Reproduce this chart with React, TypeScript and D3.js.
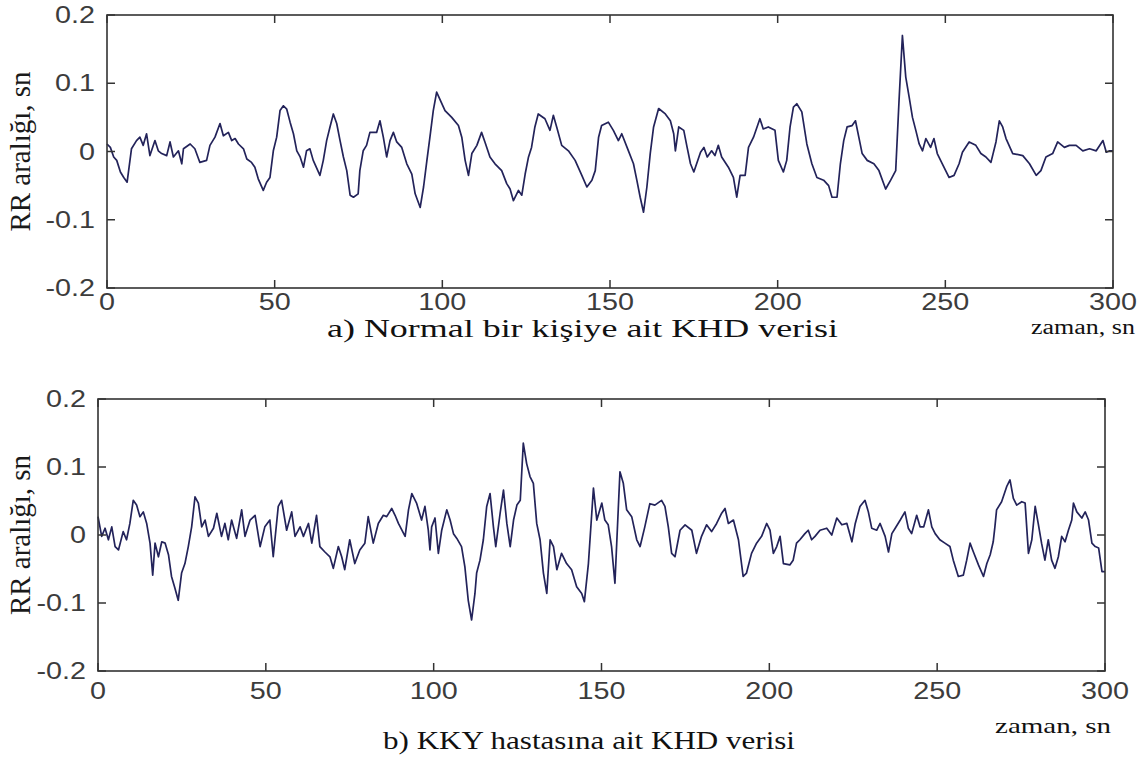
import React from "react";
import * as d3 from "d3";

// ---- Data ----
const X_TICKS = [0, 50, 100, 150, 200, 250, 300];
const Y_TICKS = [-0.2, -0.1, 0, 0.1, 0.2];
const Y_TICK_LABELS = ["-0.2", "-0.1", "0", "0.1", "0.2"];

const timeA = [
  0, 1, 2, 2.9, 4, 5, 6, 7.3, 8.8, 9.8, 10.8, 11.8, 12.8, 14.3, 15.3, 16.3, 17.8, 18.8, 19.8, 21.3,
  22.3, 22.8, 24.8, 26.2, 27.7, 29.7, 30.7, 32.2, 33.7, 34.7, 36.2, 37.2, 38.2, 39.2, 40.7, 41.7, 43.1,
  44.1, 45.1, 46.6, 47.6, 48.6, 49.6, 50.6, 51.6, 52.6, 53.6, 54.6, 55.6, 56.6, 57.6, 58.6, 59.5, 60.5,
  61.5, 63.5, 64.5, 65.5, 66.5, 67.5, 68.5, 69.5, 70.5, 71.5, 72.5, 73.5, 74.9, 75.4, 76.4, 77.4, 78.4,
  80.4, 81.4, 82.4, 83.4, 84.4, 85.4, 86.4, 87.9, 89.4, 90.9, 91.9, 93.4, 94.4, 95.4, 96.3, 97.3, 98.3,
  100.8, 102.8, 104.8, 105.8, 106.8, 107.8, 108.8, 110.3, 111.7, 112.7, 114.2, 115.7, 117.7, 119.2,
  120.2, 121.2, 122.7, 123.7, 124.7, 125.7, 126.6, 127.6, 128.6, 130.6, 132.1, 133.1, 134.1, 135.6,
  137.6, 139.6, 141.6, 143.1, 144.6, 145.6, 146.6, 147.5, 149.5, 151, 152.5, 153.5, 155.5, 157, 158,
  159, 160, 161, 162, 163, 164.5, 166.5, 168, 169, 169.5, 170.5, 172, 173, 174, 175, 177, 178, 179,
  180.3, 181.3, 182.3, 183.3, 185.3, 186.8, 187.8, 188.8, 190.3, 191.3, 192.8, 194.7, 195.7, 197.2,
  199.2, 200.2, 201.7, 202.7, 203.7, 204.7, 205.7, 207.2, 208.7, 210.2, 211.7, 213.7, 215.2, 216.2,
  217.7, 218.7, 219.7, 220.7, 222.2, 223.2, 224.2, 225.2, 226.7, 228.7, 230.2, 232.2, 233.7, 235.2,
  236.2, 237.2, 238.2, 239.2, 240.2, 241.2, 242.2, 243.2, 244.2, 245.6, 246.6, 247.6, 249.1, 251.1,
  252.6, 254.1, 255.1, 257.1, 259.1, 260.6, 262.1, 263.6, 265.1, 266.1, 267.1, 268.1, 270.1, 273.1,
  275.1, 277.1, 278.5, 280, 282, 283.5, 285.5, 287, 289, 291, 293, 295, 297, 298, 299, 300,
];
const rrA = [
  0.011, 0.006, -0.008, -0.013, -0.03, -0.038, -0.045, 0.004, 0.016, 0.021, 0.009, 0.026, -0.006, 0.016,
  0.001, -0.003, -0.006, 0.014, -0.008, 0.001, -0.018, 0.004, 0.011, 0.004, -0.016, -0.013, 0.009,
  0.021, 0.041, 0.023, 0.028, 0.016, 0.019, 0.011, 0.004, -0.011, -0.016, -0.023, -0.04, -0.057, -0.045,
  -0.038, 0.001, 0.021, 0.06, 0.067, 0.062, 0.043, 0.026, 0.001, -0.008, -0.023, 0.001, 0.004, -0.013,
  -0.035, -0.013, 0.016, 0.036, 0.055, 0.041, 0.016, -0.008, -0.028, -0.064, -0.067, -0.062, -0.028,
  0.001, 0.009, 0.028, 0.028, 0.045, 0.021, -0.008, 0.016, 0.028, 0.014, 0.006, -0.018, -0.033, -0.062,
  -0.082, -0.052, -0.013, 0.021, 0.06, 0.087, 0.06, 0.05, 0.038, 0.021, -0.013, -0.035, -0.003, 0.009,
  0.028, 0.014, -0.008, -0.018, -0.028, -0.047, -0.055, -0.072, -0.057, -0.064, -0.033, -0.008, 0.006,
  0.036, 0.055, 0.048, 0.031, 0.053, 0.036, 0.009, 0.001, -0.013, -0.035, -0.052, -0.042, -0.028, 0.021,
  0.038, 0.043, 0.031, 0.016, 0.026, 0.001, -0.018, -0.042, -0.067, -0.089, -0.052, -0.003, 0.036,
  0.063, 0.055, 0.045, 0.026, 0.001, 0.036, 0.031, 0.006, -0.018, -0.03, -0.001, 0.006, -0.008, 0.001,
  -0.006, 0.009, -0.008, -0.023, -0.038, -0.067, -0.035, -0.035, 0.006, 0.021, 0.048, 0.033, 0.036,
  0.031, -0.013, -0.03, -0.013, 0.036, 0.065, 0.07, 0.058, 0.011, -0.018, -0.038, -0.042, -0.05, -0.067,
  -0.067, -0.018, 0.016, 0.036, 0.038, 0.045, 0.021, -0.003, -0.013, -0.018, -0.028, -0.055, -0.042,
  -0.028, 0.075, 0.17, 0.109, 0.08, 0.05, 0.031, 0.011, 0.001, 0.019, 0.006, 0.019, -0.003, -0.018,
  -0.038, -0.035, -0.018, -0.001, 0.014, 0.009, -0.003, -0.008, -0.016, 0.014, 0.045, 0.036, 0.019,
  -0.003, -0.006, -0.018, -0.035, -0.028, -0.008, -0.003, 0.014, 0.006, 0.009, 0.009, 0.001, 0.004,
  0.001, 0.016, -0.001, 0.001, 0.001,
];

const timeB = [
  0, 1.1, 2.1, 3.1, 4.1, 5.1, 6.1, 7.5, 8.5, 9.5, 10.5, 11.5, 12.5, 13.5, 14.5, 15.5, 16.3, 17, 18, 19,
  20, 21, 21.9, 22.9, 23.9, 24.9, 25.9, 26.9, 27.9, 28.9, 29.9, 30.9, 31.9, 32.9, 34.4, 35.4, 36.8, 37.8,
  38.8, 39.8, 41.3, 42.8, 43.8, 45.3, 46.8, 48.3, 49.7, 51.2, 52.2, 53.7, 54.7, 56.2, 57.7, 58.7, 60.2,
  61.2, 62.7, 63.7, 65.1, 66.1, 67.6, 69.1, 70.1, 71.6, 72.6, 73.5, 75, 76.5, 78, 79.5, 80.5, 82, 83.5,
  85, 86, 87.5, 88.5, 89.5, 91.5, 92.5, 93.5, 94.9, 96.4, 97.4, 98.4, 98.9, 99.4, 100.4, 101.4, 102.4,
  103.9, 104.9, 105.9, 106.9, 108.3, 109.3, 110.3, 111.3, 112.3, 112.8, 113.8, 114.8, 115.8, 116.8,
  117.8, 118.5, 119.8, 120.8, 121.8, 122.8, 123.8, 124.8, 125.8, 126.7, 127.7, 128.7, 129.7, 130.7,
  131.7, 132.7, 133.7, 134.7, 135.7, 136.7, 138.1, 139.6, 141.1, 142.6, 144.1, 144.9, 146.1, 147.1,
  147.6, 148.6, 150.1, 151, 152, 153, 154, 154.8, 155.5, 156.5, 157.5, 159, 160.5, 161.5, 162.9, 164.4,
  165.9, 167.9, 168.9, 169.9, 170.9, 171.9, 173.4, 174.9, 176.9, 178.3, 179.8, 181.3, 182.8, 184.3,
  185.8, 186.8, 187.8, 189.3, 190.8, 192.2, 193.2, 194.7, 196.2, 197.7, 199.2, 200.2, 201.2, 202.2,
  203.2, 204.2, 206.1, 207.1, 208.1, 209.1, 210.6, 211.6, 212.6, 213.6, 215.1, 217.1, 218.6, 220.1,
  221.6, 223.1, 224.6, 225.6, 227, 228.5, 229.5, 230.5, 232, 233, 234.5, 235.5, 236.5, 237.5, 239,
  240.4, 241.4, 242.4, 243.9, 244.9, 246, 247.4, 248.4, 249.4, 250.8, 252.3, 253.8, 254.8, 256.3,
  257.8, 258.8, 259.8, 260.8, 262.3, 263.8, 264.8, 265.8, 266.7, 267.2, 267.7, 269.2, 270.7, 271.7,
  272.7, 273.7, 275.2, 276.2, 277.2, 278.2, 279.2, 280.1, 281.1, 282.1, 283.1, 284.1, 285.1, 286.1,
  287.1, 288.1, 289.1, 290.1, 290.6, 291.6, 293.1, 294.1, 295.1, 296.1, 297.1, 298.1, 299.1, 300,
];
const rrB = [
  0.027, -0.002, 0.01, -0.007, 0.012, -0.017, -0.022, 0.005, -0.007, 0.017, 0.051, 0.044, 0.027, 0.034,
  0.017, -0.012, -0.059, -0.012, -0.032, -0.01, -0.012, -0.029, -0.061, -0.078, -0.096, -0.056, -0.042,
  -0.017, 0.012, 0.056, 0.047, 0.012, 0.022, -0.002, 0.01, 0.032, -0.002, 0.017, -0.007, 0.022, -0.005,
  0.037, -0.002, 0.022, 0.029, -0.017, 0.012, 0.022, -0.032, 0.042, 0.051, 0.007, 0.034, -0.002, 0.012,
  -0.002, 0.017, -0.012, 0.029, -0.017, -0.025, -0.032, -0.049, -0.017, -0.032, -0.051, -0.007, -0.042,
  -0.022, -0.012, 0.027, -0.012, 0.017, 0.029, 0.027, 0.039, 0.029, 0.017, -0.002, 0.037, 0.061, 0.047,
  0.022, 0.042, 0.007, -0.022, 0.012, 0.025, -0.027, 0.007, 0.037, 0.022, 0.002, -0.005, -0.017, -0.047,
  -0.096, -0.125, -0.086, -0.056, -0.037, -0.007, 0.042, 0.061, 0.012, -0.017, 0.032, 0.066, 0.017,
  -0.017, 0.022, 0.044, 0.051, 0.135, 0.105, 0.086, 0.076, 0.017, -0.007, -0.056, -0.086, -0.007, -0.017,
  -0.051, -0.027, -0.042, -0.051, -0.076, -0.086, -0.098, -0.042, 0.032, 0.069, 0.022, 0.047, 0.022,
  0.015, -0.017, -0.071, 0.017, 0.093, 0.076, 0.037, 0.027, -0.007, -0.017, 0.012, 0.046, 0.044, 0.051,
  0.042, 0.012, -0.027, -0.032, 0.007, 0.015, 0.007, -0.027, -0.002, 0.015, 0.005, 0.017, 0.032, 0.039,
  0.017, 0.022, -0.007, -0.061, -0.056, -0.027, -0.012, -0.002, 0.017, 0.007, -0.027, -0.017, -0.002,
  -0.042, -0.044, -0.037, -0.012, -0.007, 0.002, 0.007, -0.007, -0.002, 0.007, 0.01, 0, 0.025, 0.015,
  0.017, -0.01, 0.017, 0.042, 0.051, 0.034, 0.01, 0.007, 0.017, -0.002, -0.025, 0.002, 0.01, 0.022,
  0.034, 0.01, 0.002, 0.029, 0.012, 0.012, 0.037, 0.012, 0.002, -0.007, -0.012, -0.017, -0.037, -0.061,
  -0.059, -0.037, -0.012, -0.025, -0.044, -0.061, -0.042, -0.029, -0.01, 0.012, 0.037, 0.049, 0.071,
  0.081, 0.054, 0.044, 0.049, 0.047, -0.027, -0.007, 0.042, 0.017, -0.012, -0.037, -0.007, -0.037,
  -0.049, -0.032, -0.002, -0.01, 0.007, 0.022, 0.047, 0.034, 0.025, 0.034, 0.022, -0.012, -0.017,
  -0.019, -0.054, -0.054,
];

const Y_TITLE = "RR aralığı, sn";
const X_TITLE = "zaman, sn";
const CAPTION_A = "a) Normal bir kişiye ait KHD verisi";
const CAPTION_B = "b) KKY hastasına ait KHD verisi";

const SANS = "'Liberation Sans', Arial, Helvetica, sans-serif";
const SERIF = "'Liberation Serif', 'Times New Roman', serif";
const AXIS = "#333";
const TICK_TXT = "#3c3c3c";
const LINE = "#23235a";

type PanelProps = {
  x0: number; x1: number; y0: number; y1: number;
  times: number[]; values: number[];
  caption: string; capX: number; capY: number; capLen: number;
  zX: number; zY: number; zLen: number; zSize: number;
  labX: number; tickDy: number;
};

function Panel(p: PanelProps) {
  const x = d3.scaleLinear().domain([0, 300]).range([p.x0, p.x1]);
  const y = d3.scaleLinear().domain([-0.2, 0.2]).range([p.y1, p.y0]);
  const pts: [number, number][] = p.times.map((t, i) => [t, p.values[i]]);
  const line = d3
    .line<[number, number]>()
    .x((d) => x(d[0]))
    .y((d) => y(d[1]))
    .curve(d3.curveLinear);
  const tl = 8;
  const midY = (p.y0 + p.y1) / 2;
  return (
    <g>
      <path d={line(pts) || ""} fill="none" stroke={LINE} strokeWidth={1.7} strokeLinejoin="round" />
      <rect x={p.x0} y={p.y0} width={p.x1 - p.x0} height={p.y1 - p.y0} fill="none" stroke={AXIS} strokeWidth={1.6} />
      {X_TICKS.map((t) => (
        <g key={"xt" + t}>
          <line x1={x(t)} x2={x(t)} y1={p.y1} y2={p.y1 - tl} stroke={AXIS} strokeWidth={1.5} />
          <line x1={x(t)} x2={x(t)} y1={p.y0} y2={p.y0 + tl} stroke={AXIS} strokeWidth={1.5} />
          <text
            transform={`translate(${x(t)},${p.y1 + p.tickDy}) scale(1.25,1)`}
            textAnchor="middle"
            fontFamily={SANS}
            fontSize={23}
            fill={TICK_TXT}
          >
            {String(t)}
          </text>
        </g>
      ))}
      {Y_TICKS.map((v, i) => (
        <g key={"yt" + i}>
          <line x1={p.x0} x2={p.x0 + tl} y1={y(v)} y2={y(v)} stroke={AXIS} strokeWidth={1.5} />
          <line x1={p.x1} x2={p.x1 - tl} y1={y(v)} y2={y(v)} stroke={AXIS} strokeWidth={1.5} />
          <text
            transform={`translate(${p.x0 - 12},${y(v) + 8}) scale(1.25,1)`}
            textAnchor="end"
            fontFamily={SANS}
            fontSize={23}
            fill={TICK_TXT}
          >
            {Y_TICK_LABELS[i]}
          </text>
        </g>
      ))}
      <text
        transform={`translate(${p.labX},${midY}) scale(1.15,1) rotate(-90)`}
        textAnchor="middle"
        fontFamily={SERIF}
        fontSize={25}
        fill="#1a1a1a"
        textLength={160}
        lengthAdjust="spacingAndGlyphs"
      >
        {Y_TITLE}
      </text>
      <text
        x={p.zX}
        y={p.zY}
        fontFamily={SERIF}
        fontSize={p.zSize}
        fill="#111"
        textLength={p.zLen}
        lengthAdjust="spacingAndGlyphs"
      >
        {X_TITLE}
      </text>
      <text
        x={p.capX}
        y={p.capY}
        fontFamily={SERIF}
        fontSize={25}
        fill="#111"
        textLength={p.capLen}
        lengthAdjust="spacingAndGlyphs"
      >
        {p.caption}
      </text>
    </g>
  );
}

export default function App() {
  return (
    <svg
      width={1145}
      height={758}
      style={{ position: "absolute", left: 0, top: 0, background: "#fff" }}
    >
      <rect x={0} y={0} width={1145} height={758} fill="#fff" />
      <Panel
        x0={107} x1={1113} y0={15} y1={288}
        times={timeA} values={rrA}
        caption={CAPTION_A} capX={327} capY={337} capLen={511}
        zX={1031} zY={334} zLen={104} zSize={20}
        labX={30} tickDy={22}
      />
      <Panel
        x0={98} x1={1105} y0={399} y1={671}
        times={timeB} values={rrB}
        caption={CAPTION_B} capX={383} capY={749} capLen={412}
        zX={995} zY={733} zLen={116} zSize={22}
        labX={30} tickDy={28}
      />
    </svg>
  );
}
